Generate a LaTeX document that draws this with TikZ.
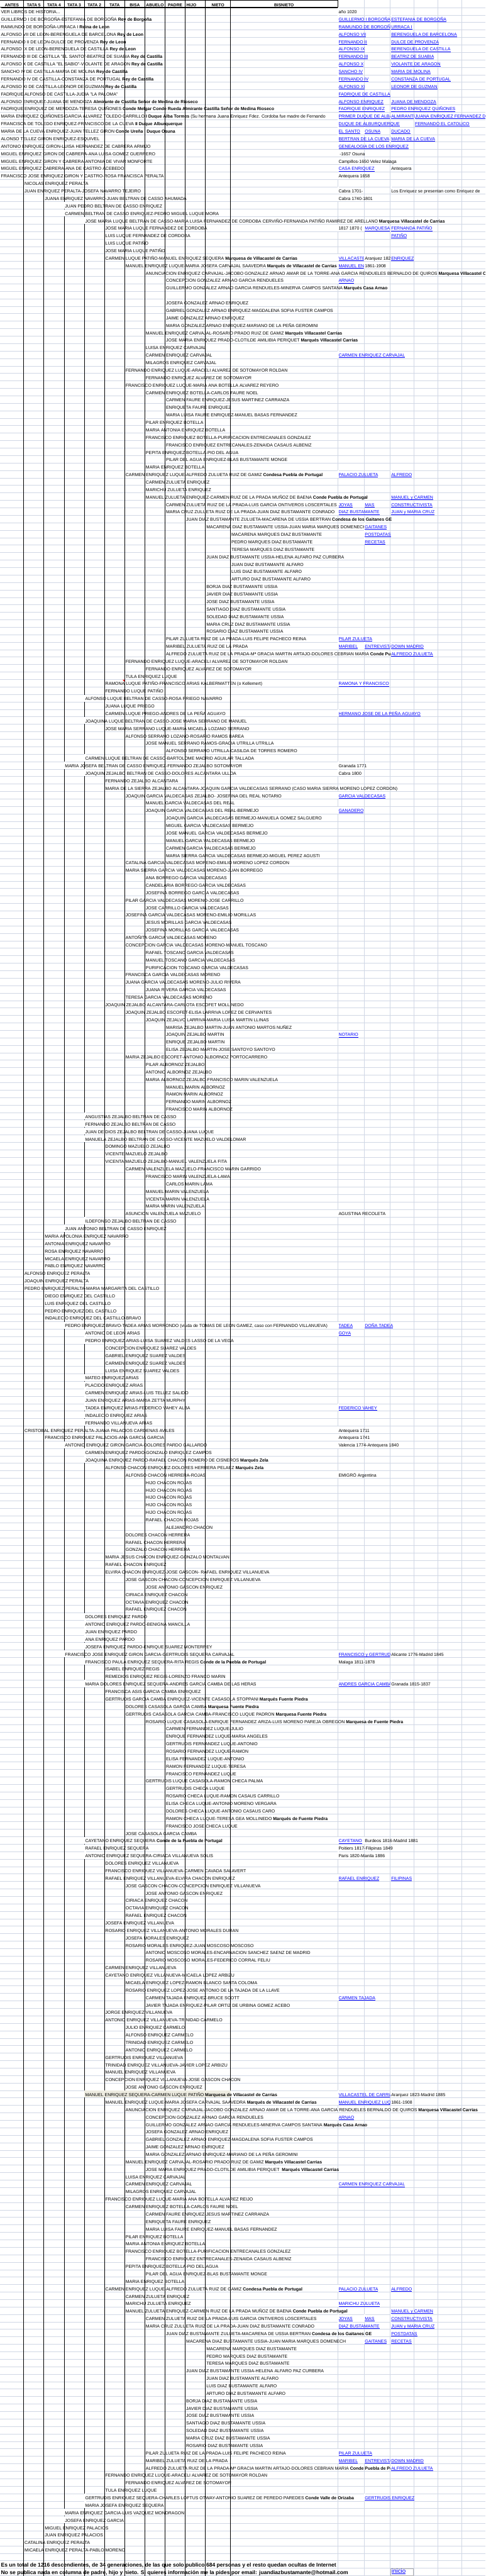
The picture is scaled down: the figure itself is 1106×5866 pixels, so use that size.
\documentclass[tikz,border=0pt]{standalone}
\usepackage{fontspec}
\setmainfont{Liberation Sans}
\definecolor{gridc}{RGB}{208,215,229}
\definecolor{lk}{RGB}{0,0,255}
\definecolor{tanc}{RGB}{238,236,225}
\newlength\tw
\newcommand\fs{\fontsize{10}{12}\selectfont}
\newcommand\hf{\fontsize{9.5}{11}\selectfont\bfseries}
\newcommand\ff{\fontsize{12.3}{14}\selectfont\bfseries}
\newcommand\myul[1]{\setbox0=\hbox{#1}\rlap{\copy0}\rule[-1.7pt]{\wd0}{0.8pt}}
\def\cA{0}\def\cB{54}\def\cC{100}\def\cD{146}\def\cE{192}\def\cF{238}\def\cG{284}
\def\cH{330}\def\cI{376}\def\cJ{422}\def\cK{468}\def\cL{525}\def\cM{769}\def\cN{829}
\def\cO{889}\def\cP{943}\def\cQ{997}\def\cR{1051}\def\cZ{1106}
\let\prefill\relax
% #1 x, #2 row, #3 clip x, #4 colour, #5 font, #6 content
\newcommand\cellx[6]{%
  \settowidth\tw{#5#6}%
  \pgfmathsetmacro\xa{#1+0.6}%
  \pgfmathsetmacro\xb{min(#1+2+\tw+1.5,#3-0.5)}%
  \pgfmathsetmacro\yt{17*#2+0.8}%
  \pgfmathsetmacro\yb{17*#2+16.8}%
  \fill[white] (\xa,\yt) rectangle (\xb,\yb);
  \prefill
  \begin{scope}
    \clip (#1,\yt-2) rectangle (#3-0.5,\yb+2);
    \node[anchor=base west,inner sep=0pt,text=#4,font=#5] at (#1+2,17*#2+14) {#6};
  \end{scope}}
\newcommand\ent[3]{\edef\myx{\csname c#2\endcsname}\cellx{\myx}{#1}{1106}{black}{\fs}{#3}}
\newcommand\entc[4]{\edef\myx{\csname c#2\endcsname}\edef\myz{\csname c#3\endcsname}\cellx{\myx}{#1}{\myz}{black}{\fs}{#4}}
\newcommand\lnk[3]{\edef\myx{\csname c#2\endcsname}\cellx{\myx}{#1}{1106}{lk}{\fs}{\myul{#3}}}
\newcommand\lnkc[4]{\edef\myx{\csname c#2\endcsname}\edef\myz{\csname c#3\endcsname}\cellx{\myx}{#1}{\myz}{lk}{\fs}{\myul{#4}}}
\begin{document}
\begin{tikzpicture}[x=1pt,y=-1pt]
\useasboundingbox (0,0) rectangle (1106,5866);
\fill[white] (0,0) rectangle (1106,5866);
% gridlines
\foreach \j in {0,...,344} \draw[gridc,line width=1pt] (0,17.3+17*\j) -- (1106,17.3+17*\j);
\foreach \x in {769,829,889,943,997,1051} \draw[gridc,line width=1pt] (\x,0) -- (\x,5866);
% black column borders
\foreach \x in {54,100,146,192,238,284,330,376,422,468,525} \draw[black,line width=1pt] (\x,0.5) -- (\x,5866);
% header
\draw[black,line width=1pt] (0,1) -- (769,1);
\draw[black,line width=1pt] (769,0.5) -- (769,17.3);
\draw[black,line width=2pt] (0,17.3) -- (769,17.3);
\node[font=\hf,anchor=base] (hA) at (27,15) {ANTES};
\node[font=\hf,anchor=base] (hB) at (77,15) {TATA 5};
\node[font=\hf,anchor=base] (hC) at (123,15) {TATA 4};
\node[font=\hf,anchor=base] (hD) at (169,15) {TATA 3};
\node[font=\hf,anchor=base] (hE) at (215,15) {TATA 2};
\node[font=\hf,anchor=base] (hF) at (261,15) {TATA};
\node[font=\hf,anchor=base] (hG) at (307,15) {BISA};
\node[font=\hf,anchor=base] (hH) at (353,15) {ABUELO};
\node[font=\hf,anchor=base] (hI) at (399,15) {PADRE};
\node[font=\hf,anchor=base] (hJ) at (436,15) {HIJO};
\node[font=\hf,anchor=base] (hK) at (496.5,15) {NIETO};
\node[font=\hf,anchor=base] (hL) at (647,15) {BISNIETO};
% rows
\ent{1}{A}{VER LIBROS DE HISTORIA...}\ent{1}{M}{año 1020}
\ent{2}{A}{GUILLERMO I DE BORGOÑA-ESTEFANIA DE BORGOÑA \textbf{Rey de Borgoña}}\lnkc{2}{M}{O}{GUILLERMO I BORGOÑA}\lnk{2}{O}{ESTEFANIA DE BORGOÑA}
\ent{3}{A}{RAIMUNDO DE BORGOÑA-URRACA I \textbf{Reina de Leon}}\lnkc{3}{M}{O}{RAIMUNDO DE BORGOÑA}\lnk{3}{O}{URRACA I}
\ent{4}{A}{ALFONSO VII DE LEON-BERENGUELA DE BARCELONA \textbf{Rey de Leon}}\lnk{4}{M}{ALFONSO VII}\lnk{4}{O}{BERENGUELA DE BARCELONA}
\ent{5}{A}{FERNANDO II DE LEON-DULCE DE PROVENZA \textbf{Rey de Leon}}\lnk{5}{M}{FERNANDO II}\lnk{5}{O}{DULCE DE PROVENZA}
\ent{6}{A}{ALFONSO IX DE LEON-BERENGUELA DE CASTILLA \textbf{Rey de Leon}}\lnk{6}{M}{ALFONSO IX}\lnk{6}{O}{BERENGUELA DE CASTILLA}
\ent{7}{A}{FERNANDO III DE CASTILLA "EL SANTO"-BEATRIZ DE SUABIA \textbf{Rey de Castilla}}\lnk{7}{M}{FERNANDO III}\lnk{7}{O}{BEATRIZ DE SUABIA}
\ent{8}{A}{ALFONSO X DE CASTILLA "EL SABIO"-VIOLANTE DE ARAGON \textbf{Rey de Castilla}}\lnk{8}{M}{ALFONSO X}\lnk{8}{O}{VIOLANTE DE ARAGON}
\ent{9}{A}{SANCHO IV DE CASTILLA-MARIA DE MOLINA \textbf{Rey de Castilla}}\lnk{9}{M}{SANCHO IV}\lnk{9}{O}{MARIA DE MOLINA}
\ent{10}{A}{FERNANDO IV DE CASTILLA-CONSTANZA DE PORTUGAL \textbf{Rey de Castilla}}\lnk{10}{M}{FERNANDO IV}\lnk{10}{O}{CONSTANZA DE PORTUGAL}
\ent{11}{A}{ALFONSO XI DE CASTILLA-LEONOR DE GUZMAN \textbf{Rey de Castilla}}\lnk{11}{M}{ALFONSO XI}\lnk{11}{O}{LEONOR DE GUZMAN}
\ent{12}{A}{FADRIQUE ALFONSO DE CASTILLA-JUDIA "LA PALOMA"}\lnk{12}{M}{FADRIQUE DE CASTILLA}
\ent{13}{A}{ALFONSO ENRIQUEZ-JUANA DE MENDOZA \textbf{Almirante de Castilla Señor de Medina de Rioseco}}\lnk{13}{M}{ALFONSO ENRIQUEZ}\lnk{13}{O}{JUANA DE MENDOZA}
\ent{14}{A}{FADRIQUE ENRIQUEZ DE MENDOZA-TERESA QUIÑONES \textbf{Conde Melgar Conde Rueda Almirante Castilla Señor de Medina Rioseco}}\lnk{14}{M}{FADRIQUE ENRIQUEZ}\lnk{14}{O}{PEDRO ENRIQUEZ QUIÑONES}
\entc{15}{A}{M}{MARIA ENRIQUEZ QUIÑONES-GARCIA ALVAREZ TOLEDO CARRILLO \textbf{I Duque Alba Tormes} (Su hermana Juana Enriquez Fdez. Cordoba fue madre de Fernando}\lnkc{15}{M}{O}{PRIMER DUQUE DE ALBA}\lnkc{15}{O}{P}{ALMIRANTE}\lnk{15}{P}{JUANA ENRIQUEZ FERNANDEZ DE CORDOBA}
\ent{16}{A}{FRANCISCA DE TOLEDO ENRIQUEZ-FRANCISCO DE LA CUEVA \textbf{II Duque Alburquerque}}\lnk{16}{M}{DUQUE DE ALBURQUERQUE}\lnk{16}{P}{FERNANDO EL CATOLICO}
\ent{17}{A}{MARIA DE LA CUEVA ENRIQUEZ-JUAN TELLEZ GIRON \textbf{Conde Ureña I Duque Osuna}}\lnk{17}{M}{EL SANTO}\lnk{17}{N}{OSUNA}\lnk{17}{O}{DUCADO}
\ent{18}{A}{ALONSO TELLEZ GIRON ENRIQUEZ-ESQUIVEL}\lnkc{18}{M}{O}{BERTRAN DE LA CUEVA}\lnk{18}{O}{MARIA DE LA CUEVA}
\ent{19}{A}{ANTONIO ENRIQUEZ GIRON-LUISA HERNANDEZ DE CABRERA ARMIJO}\lnk{19}{M}{GENEALOGIA DE LOS ENRIQUEZ}
\ent{20}{A}{MIGUEL ENRIQUEZ GIRON DE CABRERA-ANA LUISA GOMEZ GUERRERO}\ent{20}{M}{\hspace{2.5pt}-1657 Osuna}
\ent{21}{A}{MIGUEL ENRIQUEZ GIRON Y CABRERA-ANTONIA DE VIVAR MONFORTE}\ent{21}{M}{Campillos-1650 Velez Malaga}
\ent{22}{A}{MIGUEL ENRIQUEZ CABRERA-ANA DE CASTRO ACEBEDO}\lnk{22}{M}{CASA ENRIQUEZ}\ent{22}{O}{Antequera}
\ent{23}{A}{FRANCISCO JOSE ENRIQUEZ GIRON Y CASTRO-ROSA FRANCISCA PERALTA}\ent{23}{M}{Antequera 1658}
\ent{24}{B}{NICOLAS ENRIQUEZ PERALTA}
\ent{25}{B}{JUAN ENRIQUEZ PERALTA-JOSEFA NAVARRO TEJEIRO}\ent{25}{M}{Cabra 1701-}\ent{25}{O}{Los Enriquez se presentan como Enriquez de}
\ent{26}{C}{JUANA ENRIQUEZ NAVARRO-JUAN BELTRAN DE CASSO AHUMADA}\ent{26}{M}{Cabra 1740-1801}
\ent{27}{D}{JUAN PEDRO BELTRAN DE CASSO ENRIQUEZ}
\ent{28}{D}{CARMEN BELTRAN DE CASSO ENRIQUEZ-PEDRO MIGUEL LUQUE MORA}
\ent{29}{E}{JOSE MARIA LUQUE BELTRAN DE CASSO-MARIA LUISA FERNANDEZ DE CORDOBA CERVIÑO-FERNANDA PATIÑO RAMIREZ DE ARELLANO \textbf{Marquesa Villacastel de Carrias}}
\ent{30}{F}{JOSE MARIA LUQUE FERNANDEZ DE CORDOBA}\entc{30}{M}{N}{1817 1870 (}\lnkc{30}{N}{O}{MARQUESA}\lnk{30}{O}{FERNANDA PATIÑO}
\ent{31}{F}{LUIS LUQUE FERNANDEZ DE CORDOBA}\lnk{31}{O}{PATIÑO}
\ent{32}{F}{LUIS LUQUE PATIÑO}
\ent{33}{F}{JOSE MARIA LUQUE PATIÑO}
\ent{34}{F}{CARMEN LUQUE PATIÑO-MANUEL ENRIQUEZ SEQUERA \textbf{Marquesa de Villacastel de Carrias}}\lnkc{34}{M}{N}{VILLACASTEL}\entc{34}{N}{O}{Aranjuez 1823}\lnk{34}{O}{ENRIQUEZ}
\entc{35}{G}{M}{MANUEL ENRIQUEZ LUQUE-MARIA JOSEFA CARVAJAL SAAVEDRA \textbf{Marqués de Villacastel de Carrias}}\lnkc{35}{M}{N}{MANUEL ENRIQUEZ}\ent{35}{N}{1861-1908}
\ent{36}{H}{ANUNCIACION ENRIQUEZ CARVAJAL-JACOBO GONZALEZ ARNAO AMAR DE LA TORRE-ANA GARCIA RENDUELES BERNALDO DE QUIROS \textbf{Marquesa Villacastel Carrias}}
\ent{37}{I}{CONCEPCION GONZALEZ ARNAO GARCIA RENDUELES}\lnk{37}{M}{ARNAO}
\ent{38}{I}{GUILLERMO GONZALEZ ARNAO GARCIA RENDUELES-MINERVA CAMPOS SANTANA \textbf{Marqués Casa Arnao}}
\ent{40}{I}{JOSEFA GONZALEZ ARNAO ENRIQUEZ}
\ent{41}{I}{GABRIEL GONZALEZ ARNAO ENRIQUEZ-MAGDALENA SOFIA FUSTER CAMPOS}
\ent{42}{I}{JAIME GONZALEZ ARNAO ENRIQUEZ}
\ent{43}{I}{MARIA GONZALEZ ARNAO ENRIQUEZ-MARIANO DE LA PEÑA GEROMINI}
\ent{44}{H}{MANUEL ENRIQUEZ CARVAJAL-ROSARIO PRADO RUIZ DE GAMIZ \textbf{Marqués Villacastel Carrias}}
\ent{45}{I}{JOSE MARIA ENRIQUEZ PRADO-CLOTILDE AMILIBIA PERIQUET \textbf{Marqués Villacastel Carrias}}
\ent{46}{H}{LUISA ENRIQUEZ CARVAJAL}
\ent{47}{H}{CARMEN ENRIQUEZ CARVAJAL}\lnk{47}{M}{CARMEN ENRIQUEZ CARVAJAL}
\ent{48}{H}{MILAGROS ENRIQUEZ CARVAJAL}
\ent{49}{G}{FERNANDO ENRIQUEZ LUQUE-ARACELI ALVAREZ DE SOTOMAYOR ROLDAN}
\ent{50}{H}{FERNANDO ENRIQUEZ ALVAREZ DE SOTOMAYOR}
\ent{51}{G}{FRANCISCO ENRIQUEZ LUQUE-MARIA ANA BOTELLA ALVAREZ REYERO}
\ent{52}{H}{CARMEN ENRIQUEZ BOTELLA-CARLOS FAURE NOEL}
\ent{53}{I}{CARMEN FAURE ENRIQUEZ-JESUS MARTINEZ CARRANZA}
\ent{54}{I}{ENRIQUETA FAURE ENRIQUEZ}
\ent{55}{I}{MARIA LUISA FAURE ENRIQUEZ-MANUEL BASAS FERNANDEZ}
\ent{56}{H}{PILAR ENRIQUEZ BOTELLA}
\ent{57}{H}{MARIA ANTONIA ENRIQUEZ BOTELLA}
\ent{58}{H}{FRANCISCO ENRIQUEZ BOTELLA-PURIFICACION ENTRECANALES GONZALEZ}
\ent{59}{I}{FRANCISCO ENRIQUEZ ENTRECANALES-ZENAIDA CASAUS ALBENIZ}
\ent{60}{H}{PEPITA ENRIQUEZ BOTELLA-PIO DEL AGUA}
\ent{61}{I}{PILAR DEL AGUA ENRIQUEZ-BLAS BUSTAMANTE MONGE}
\ent{62}{H}{MARIA ENRIQUEZ BOTELLA}
\ent{63}{G}{CARMEN ENRIQUEZ LUQUE-ALFREDO ZULUETA RUIZ DE GAMIZ \textbf{Condesa Puebla de Portugal}}\lnk{63}{M}{PALACIO ZULUETA}\lnk{63}{O}{ALFREDO}
\ent{64}{H}{CARMEN ZULUETA ENRIQUEZ}
\ent{65}{H}{MARICHU ZULUETA ENRIQUEZ}
\ent{66}{H}{MANUEL ZULUETA ENRIQUEZ-CARMEN RUIZ DE LA PRADA MUÑOZ DE BAENA \textbf{Conde Puebla de Portugal}}\lnk{66}{O}{MANUEL y CARMEN}
\entc{67}{I}{M}{CARMEN ZULUETA RUIZ DE LA PRADA-LUIS GARCIA ONTIVEROS LOSCERTALES}\lnk{67}{M}{JOYAS}\lnk{67}{N}{MAS}\lnk{67}{O}{CONSTRUCTIVISTA}
\entc{68}{I}{M}{MARIA CRUZ ZULUETA RUIZ DE LA PRADA-JUAN DIAZ BUSTAMANTE CONRADO}\lnk{68}{M}{DIAZ BUSTAMANTE}\lnk{68}{O}{JUAN y MARIA CRUZ}
\ent{69}{J}{JUAN DIAZ BUSTAMANTE ZULUETA-MACARENA DE USSIA BERTRAN \textbf{Condesa de los Gaitanes GE}}
\entc{70}{K}{N}{MACARENA DIAZ BUSTAMANTE USSIA-JUAN MARIA MARQUES DOMENECH}\lnk{70}{N}{GAITANES}
\ent{71}{L}{MACARENA MARQUES DIAZ BUSTAMANTE}\lnk{71}{N}{POSTDATAS}
\ent{72}{L}{PEDRO MARQUES DIAZ BUSTAMANTE}\lnk{72}{N}{RECETAS}
\ent{73}{L}{TERESA MARQUES DIAZ BUSTAMANTE}
\ent{74}{K}{JUAN DIAZ BUSTAMANTE USSIA-HELENA ALFARO PAZ CURBERA}
\ent{75}{L}{JUAN DIAZ BUSTAMANTE ALFARO}
\ent{76}{L}{LUIS DIAZ BUSTAMANTE ALFARO}
\ent{77}{L}{ARTURO DIAZ BUSTAMANTE ALFARO}
\ent{78}{K}{BORJA DIAZ BUSTAMANTE USSIA}
\ent{79}{K}{JAVIER DIAZ BUSTAMANTE USSIA}
\ent{80}{K}{JOSE DIAZ BUSTAMANTE USSIA}
\ent{81}{K}{SANTIAGO DIAZ BUSTAMANTE USSIA}
\ent{82}{K}{SOLEDAD DIAZ BUSTAMANTE USSIA}
\ent{83}{K}{MARIA CRUZ DIAZ BUSTAMANTE USSIA}
\ent{84}{K}{ROSARIO DIAZ BUSTAMANTE USSIA}
\ent{85}{I}{PILAR ZULUETA RUIZ DE LA PRADA-LUIS FELIPE PACHECO REINA}\lnk{85}{M}{PILAR ZULUETA}
\ent{86}{I}{MARIBEL ZULUETA RUIZ DE LA PRADA}\lnk{86}{M}{MARIBEL}\lnkc{86}{N}{O}{ENTREVISTA}\lnk{86}{O}{DOWN MADRID}
\entc{87}{I}{O}{ALFREDO ZULUETA RUIZ DE LA PRADA-Mª GRACIA MARTIN ARTAJO-DOLORES CEBRIAN MARIA \textbf{Conde Puebla de Portugal}}\lnk{87}{O}{ALFREDO ZULUETA}
\ent{88}{G}{FERNANDO ENRIQUEZ LUQUE-ARACELI ALVAREZ DE SOTOMAYOR ROLDAN}
\ent{89}{H}{FERNANDO ENRIQUEZ ALVAREZ DE SOTOMAYOR}
\ent{90}{G}{TULA ENRIQUEZ LUQUE}
\ent{91}{F}{RAMONA LUQUE PATIÑO-FRANCISCO ARIAS KALBERMATTEN (o Kellemert)}\lnk{91}{M}{RAMONA Y FRANCISCO}
\ent{92}{F}{FERNANDO LUQUE PATIÑO}
\ent{93}{E}{ALFONSO LUQUE BELTRAN DE CASSO-ROSA PRIEGO NAVARRO}
\ent{94}{F}{JUANA LUQUE PRIEGO}
\ent{95}{F}{CARMEN LUQUE PRIEGO-ANDRES DE LA PEÑA AGUAYO}\lnk{95}{M}{HERMANO JOSE DE LA PEÑA AGUAYO}
\ent{96}{E}{JOAQUINA LUQUE BELTRAN DE CASSO-JOSE MARIA SERRANO DE MANUEL}
\ent{97}{F}{JOSE MARIA SERRANO LUQUE-MARIA MICAELA LOZANO SERRANO}
\ent{98}{G}{ALFONSO SERRANO LOZANO-ROSARIO RAMOS BAREA}
\ent{99}{H}{JOSE MANUEL SERRANO RAMOS-GRACIA UTRILLA UTRILLA}
\ent{100}{I}{ALFONSO SERRANO UTRILLA-CASILDA DE TORRES ROMERO}
\ent{101}{E}{CARMEN LUQUE BELTRAN DE CASSO-BARTOLOME MADRID AGUILAR TALLADA}
\ent{102}{D}{MARIA JOSEFA BELTRAN DE CASSO ENRIQUEZ-FERNANDO ZEJALBO SOTOMAYOR}\ent{102}{M}{Granada 1771}
\ent{103}{E}{JOAQUIN ZEJALBO BELTRAN DE CASSO-DOLORES ALCANTARA ULLOA}\ent{103}{M}{Cabra 1800}
\ent{104}{F}{FERNANDO ZEJALBO ALCANTARA}
\ent{105}{F}{MARIA DE LA SIERRA ZEJALBO ALCANTARA-JOAQUIN GARCIA VALDECASAS SERRANO (CASO MARIA SIERRA MORENO LOPEZ CORDON)}
\ent{106}{G}{JOAQUIN GARCIA VALDECASAS ZEJALBO- JOSEFINA DEL REAL NOTARIO}\lnk{106}{M}{GARCIA VALDECASAS}
\ent{107}{H}{MANUEL GARCIA VALDECASAS DEL REAL}
\ent{108}{H}{JOAQUIN GARCIA VALDECASAS DEL REAL-BERMEJO}\lnk{108}{M}{GANADERO}
\ent{109}{I}{JOAQUIN GARCIA VALDECASAS BERMEJO-MANUELA GOMEZ SALGUERO}
\ent{110}{I}{MIGUEL GARCIA VALDECASAS BERMEJO}
\ent{111}{I}{JOSE MANUEL GARCIA VALDECASAS BERMEJO}
\ent{112}{I}{MANUEL GARCIA VALDECASAS BERMEJO}
\ent{113}{I}{CARMEN GARCIA VALDECASAS BERMEJO}
\ent{114}{I}{MARIA SIERRA GARCIA VALDECASAS BERMEJO-MIGUEL PEREZ AGUSTI}
\ent{115}{G}{CATALINA GARCIA VALDECASAS MORENO-EMILIO MORENO LOPEZ CORDON}
\ent{116}{G}{MARIA SIERRA GARCIA VALDECASAS MORENO-JUAN BORREGO}
\ent{117}{H}{ANA BORREGO GARCIA VALDECASAS}
\ent{118}{H}{CANDELARIA BORREGO GARCIA VALDECASAS}
\ent{119}{H}{JOSEFINA BORREGO GARCIA VALDECASAS}
\ent{120}{G}{PILAR GARCIA VALDECASAS MORENO-JOSE CARRILLO}
\ent{121}{H}{JOSE CARRILLO GARCIA VALDECASAS}
\ent{122}{G}{JOSEFINA GARCIA VALDECASAS MORENO-EMILIO MORILLAS}
\ent{123}{H}{JESUS MORILLAS GARCIA VALDECASAS}
\ent{124}{H}{JOSEFINA MORILLAS GARCIA VALDECASAS}
\ent{125}{G}{ANTOÑITA GARCIA VALDECASAS MORENO}
\ent{126}{G}{CONCEPCION GARCIA VALDECASAS MORENO-MANUEL TOSCANO}
\ent{127}{H}{RAFAEL TOSCANO GARCIA VALDECASAS}
\ent{128}{H}{MANUEL TOSCANO GARCIA VALDECASAS}
\ent{129}{H}{PURIFICACION TOSCANO GARCIA VALDECASAS}
\ent{130}{G}{FRANCISCA GARCIA VALDECASAS MORENO}
\ent{131}{G}{JUANA GARCIA VALDECASAS MORENO-JULIO RIVERA}
\ent{132}{H}{JUANA RIVERA GARCIA VALDECASAS}
\ent{133}{G}{TERESA GARCIA VALDECASAS MORENO}
\ent{134}{F}{JOAQUIN ZEJALBO ALCANTARA-CARLOTA ESCOFET MOLLINEDO}
\ent{135}{G}{JOAQUIN ZEJALBO ESCOFET-ELISA LARRIVA LOPEZ DE CERVANTES}
\ent{136}{H}{JOAQUIN ZEJALVO LARRIVA-MARIA LUISA MARTIN LLINAS}
\ent{137}{I}{MARISA ZEJALBO MARTIN-JUAN ANTONIO MARTOS NUÑEZ}
\ent{138}{I}{JOAQUIN ZEJALBO MARTIN}\lnk{138}{M}{NOTARIO}
\ent{139}{I}{ENRIQUE ZEJALBO MARTIN}
\ent{140}{I}{ELISA ZEJALBO MARTIN-JOSE SANTOYO SANTOYO}
\ent{141}{G}{MARIA ZEJALBO ESCOFET-ANTONIO ALBORNOZ PORTOCARRERO}
\ent{142}{H}{PILAR ALBORNOZ ZEJALBO}
\ent{143}{H}{ANTONIO ALBORNOZ ZEJALBO}
\ent{144}{H}{MARIA ALBORNOZ ZEJALBO-FRANCISCO MARIN VALENZUELA}
\ent{145}{I}{MANUEL MARIN ALBORNOZ}
\ent{146}{I}{RAMON MARIN ALBORNOZ}
\ent{147}{I}{FERNANDO MARIN ALBORNOZ}
\ent{148}{I}{FRANCISCO MARIN ALBORNOZ}
\ent{149}{E}{ANGUSTIAS ZEJALBO BELTRAN DE CASSO}
\ent{150}{E}{FERNANDO ZEJALBO BELTRAN DE CASSO}
\ent{151}{E}{JUAN DE DIOS ZEJALBO BELTRAN DE CASSO-JUANA LUQUE}
\ent{152}{E}{MANUELA ZEJALBO BELTRAN DE CASSO-VICENTE MAZUELO VALDELOMAR}
\ent{153}{F}{DOMINGO MAZUELO ZEJALBO}
\ent{154}{F}{VICENTE MAZUELO ZEJALBO}
\ent{155}{F}{VICENTA MAZUELO ZEJALBO-MANUEL VALENZUELA FITA}
\ent{156}{G}{CARMEN VALENZUELA MAZUELO-FRANCISCO MARIN GARRIDO}
\ent{157}{H}{FRANCISCO MARIN VALENZUELA-LAMA}
\ent{158}{I}{CARLOS MARIN LAMA}
\ent{159}{H}{MANUEL MARIN VALENZUELA}
\ent{160}{H}{VICENTA MARIN VALENZUELA}
\ent{161}{H}{MARIA MARIN VALENZUELA}
\ent{162}{G}{ASUNCION VALENZUELA MAZUELO}\ent{162}{M}{AGUSTINA RECOLETA}
\ent{163}{E}{ILDEFONSO ZEJALBO BELTRAN DE CASSO}
\ent{164}{D}{JUAN ANTONIO BELTRAN DE CASSO ENRIQUEZ}
\ent{165}{C}{MARIA APOLONIA ENRIQUEZ NAVARRO}
\ent{166}{C}{ANTONIA ENRIQUEZ NAVARRO}
\ent{167}{C}{ROSA ENRIQUEZ NAVARRO}
\ent{168}{C}{MICAELA ENRIQUEZ NAVARRO}
\ent{169}{C}{PABLO ENRIQUEZ NAVARRO}
\ent{170}{B}{ALFONSO ENRIQUEZ PERALTA}
\ent{171}{B}{JOAQUIN ENRIQUEZ PERALTA}
\ent{172}{B}{PEDRO ENRIQUEZ PERALTA-MARIA MARGARITA DEL CASTILLO}
\ent{173}{C}{DIEGO ENRIQUEZ DEL CASTILLO}
\ent{174}{C}{LUIS ENRIQUEZ DEL CASTILLO}
\ent{175}{C}{PEDRO ENRIQUEZ DEL CASTILLO}
\ent{176}{C}{INDALECIO ENRIQUEZ DEL CASTILLO-BRAVO}
\entc{177}{D}{M}{PEDRO ENRIQUEZ BRAVO-TADEA ARIAS MORRONDO (viuda de TOMAS DE LEON GAMEZ, caso con FERNANDO VILLANUEVA)}\lnk{177}{M}{TADEA}\lnk{177}{N}{DOÑA TADEA}
\ent{178}{E}{ANTONIO DE LEON ARIAS}\lnk{178}{M}{GOYA}
\ent{179}{E}{PEDRO ENRIQUEZ ARIAS-LUISA SUAREZ VALDES LASSO DE LA VEGA}
\ent{180}{F}{CONCEPCION ENRIQUEZ SUAREZ VALDES}
\ent{181}{F}{GABRIEL ENRIQUEZ SUAREZ VALDES}
\ent{182}{F}{CARMEN ENRIQUEZ SUAREZ VALDES}
\ent{183}{F}{LUISA ENRIQUEZ SUAREZ VALDES}
\ent{184}{E}{MATEO ENRIQUEZ ARIAS}
\ent{185}{E}{PLACIDO ENRIQUEZ ARIAS}
\ent{186}{E}{CARMEN ENRIQUEZ ARIAS-LUIS TELLEZ SALIDO}
\ent{187}{E}{JUAN ENRIQUEZ ARIAS-MARIA ZETTA MURPHY}
\ent{188}{E}{TADEA ENRIQUEZ ARIAS-FEDERICO VAHEY ALBA}\lnk{188}{M}{FEDERICO VAHEY}
\ent{189}{E}{INDALECIO ENRIQUEZ ARIAS}
\ent{190}{E}{FERNANDO VILLANUEVA ARIAS}
\ent{191}{B}{CRISTOBAL ENRIQUEZ PERALTA-JUANA PALACIOS CARDENAS AVILES}\ent{191}{M}{Antequera 1711}
\ent{192}{C}{FRANCISCO ENRIQUEZ PALACIOS-ANA GARCIA GARCIA}\ent{192}{M}{Antequera 1741}
\ent{193}{D}{ANTONIO ENRIQUEZ GIRON GARCIA-DOLORES PARDO GALLARDO}\ent{193}{M}{Valencia 1774-Antequera 1840}
\ent{194}{E}{CARMEN ENRIQUEZ PARDO-GONZALO ENRIQUEZ CAMPOS}
\ent{195}{E}{JOAQUINA ENRIQUEZ PARDO-RAFAEL CHACON ROMERO DE CISNEROS \textbf{Marqués Zela}}
\ent{196}{F}{ALFONSO CHACON ENRIQUEZ-DOLORES HERRERA PELAEZ \textbf{Marqués Zela}}
\ent{197}{G}{ALFONSO CHACON HERRERA-ROJAS}\ent{197}{M}{EMIGRÓ Argentina}
\ent{198}{H}{HIJO CHACON ROJAS}
\ent{199}{H}{HIJO CHACON ROJAS}
\ent{200}{H}{HIJO CHACON ROJAS}
\ent{201}{H}{HIJO CHACON ROJAS}
\ent{202}{H}{HIJO CHACON ROJAS}
\ent{203}{H}{RAFAEL CHACON ROJAS}
\ent{204}{I}{ALEJANDRO CHACON}
\ent{205}{G}{DOLORES CHACON HERRERA}
\ent{206}{G}{RAFAEL CHACON HERRERA}
\ent{207}{G}{GONZALO CHACON HERRERA}
\ent{208}{F}{MARIA JESUS CHACON ENRIQUEZ-GONZALO MONTALVAN}
\ent{209}{F}{RAFAEL CHACON ENRIQUEZ}
\ent{210}{F}{ELVIRA CHACON ENRIQUEZ-JOSE GASCON- RAFAEL ENRIQUEZ VILLANUEVA}
\ent{211}{G}{JOSE GASCON CHACON-CONCEPCION ENRIQUEZ VILLANUEVA}
\ent{212}{H}{JOSE ANTONIO GASCON ENRIQUEZ}
\ent{213}{G}{CIRIACA ENRIQUEZ CHACON}
\ent{214}{G}{OCTAVIA ENRIQUEZ CHACON}
\ent{215}{G}{RAFAEL ENRIQUEZ CHACON}
\ent{216}{E}{DOLORES ENRIQUEZ PARDO}
\ent{217}{E}{ANTONIO ENRIQUEZ PARDO-BENIGNA MANCILLA}
\ent{218}{E}{JUAN ENRIQUEZ PARDO}
\ent{219}{E}{ANA ENRIQUEZ PARDO}
\ent{220}{E}{JOSEFA ENRIQUEZ PARDO-ENRIQUE SUAREZ MONTERREY}
\ent{221}{D}{FRANCISCO JOSE ENRIQUEZ GIRON GARCIA-GERTRUDIS SEQUERA CARVAJAL}\lnkc{221}{M}{O}{FRANCISCO y GERTRUDIS}\ent{221}{O}{Alicante 1776-Madrid 1845}
\ent{222}{E}{FRANCISCO PAULA ENRIQUEZ SEQUERA-RITA REGIS \textbf{Conde de la Puebla de Portugal}}\ent{222}{M}{Malaga 1811-1878}
\ent{223}{F}{ISABEL ENRIQUEZ REGIS}
\ent{224}{F}{REMEDIOS ENRIQUEZ REGIS-LORENZO FRANCO MARIN}
\ent{225}{E}{MARIA DOLORES ENRIQUEZ SEQUERA-ANDRES GARCIA CAMBA DE LAS HERAS}\lnkc{225}{M}{O}{ANDRES GARCIA CAMBA}\ent{225}{O}{Granada 1815-1837}
\ent{226}{F}{FRANCISCA ASIS GARCIA CAMBA ENRIQUEZ}
\ent{227}{F}{GERTRUDIS GARCIA CAMBA ENRIQUEZ-VICENTE CASASOLA STOPPANI \textbf{Marqués Fuente Piedra}}
\ent{228}{G}{DOLORES CASASOLA GARCIA CAMBA \textbf{Marquesa Fuente Piedra}}
\ent{229}{G}{GERTRUDIS CASASOLA GARCIA CAMBA-FRANCISCO LUQUE PADRON \textbf{Marquesa Fuente Piedra}}
\ent{230}{H}{ROSARIO LUQUE CASASOLA-ENRIQUE FERNANDEZ ARIZA-LUIS MORENO PAREJA OBREGON \textbf{Marquesa de Fuente Piedra}}
\ent{231}{I}{CARMEN FERNANDEZ LUQUE-JULIO}
\ent{232}{I}{ENRIQUE FERNANDEZ LUQUE-MARIA ANGELES}
\ent{233}{I}{GERTRUDIS FERNANDEZ LUQUE-ANTONIO}
\ent{234}{I}{ROSARIO FERNANDEZ LUQUE-RAMON}
\ent{235}{I}{ELISA FERNANDEZ LUQUE-ANTONIO}
\ent{236}{I}{RAMON FERNANDEZ LUQUE-TERESA}
\ent{237}{I}{FRANCISCO FERNANDEZ LUQUE}
\ent{238}{H}{GERTRUDIS LUQUE CASASOLA-RAMON CHECA PALMA}
\ent{239}{I}{GERTRUDIS CHECA LUQUE}
\ent{240}{I}{ROSARIO CHECA LUQUE-RAMON CASAUS CARRILLO}
\ent{241}{I}{ELISA CHECA LUQUE-ANTONIO MORENO VERGARA}
\ent{242}{I}{DOLORES CHECA LUQUE-ANTONIO CASAUS CARO}
\ent{243}{I}{RAMON CHECA LUQUE-TERESA GEA MOLLINEDO \textbf{Marqués de Fuente Piedra}}
\ent{244}{I}{FRANCISCO JOSE CHECA LUQUE}
\ent{245}{G}{JOSE CASASOLA GARCIA CAMBA}
\ent{246}{E}{CAYETANO ENRIQUEZ SEQUERA \textbf{Conde de la Puebla de Portugal}}\lnk{246}{M}{CAYETANO}\ent{246}{N}{Burdeos 1816-Madrid 1881}
\ent{247}{E}{RAFAEL ENRIQUEZ SEQUERA}\ent{247}{M}{Poitiers 1817-Filipinas 1849}
\ent{248}{E}{ANTONIO ENRIQUEZ SEQUERA-CIRIACA VILLANUEVA SOLIS}\ent{248}{M}{Paris 1820-Manila 1886}
\ent{249}{F}{DOLORES ENRIQUEZ VILLANUEVA}
\ent{250}{F}{FRANCISCO ENRIQUEZ VILLANUEVA-CARMEN CAVADA SALAVERT}
\ent{251}{F}{RAFAEL ENRIQUEZ VILLANUEVA-ELVIRA CHACON ENRIQUEZ}\lnk{251}{M}{RAFAEL ENRIQUEZ}\lnk{251}{O}{FILIPINAS}
\ent{252}{G}{JOSE GASCON CHACON-CONCEPCION ENRIQUEZ VILLANUEVA}
\ent{253}{H}{JOSE ANTONIO GASCON ENRIQUEZ}
\ent{254}{G}{CIRIACA ENRIQUEZ CHACON}
\ent{255}{G}{OCTAVIA ENRIQUEZ CHACON}
\ent{256}{G}{RAFAEL ENRIQUEZ CHACON}
\ent{257}{F}{JOSEFA ENRIQUEZ VILLANUEVA}
\ent{258}{F}{ROSARIO ENRIQUEZ VILLANUEVA-ANTONIO MORALES DURAN}
\ent{259}{G}{JOSEFA MORALES ENRIQUEZ}
\ent{260}{G}{ROSARIO MORALES ENRIQUEZ-JUAN MOSCOSO MOSCOSO}
\ent{261}{H}{ANTONIO MOSCOSO MORALES-ENCARNACION SANCHEZ SAENZ DE MADRID}
\ent{262}{H}{ROSARIO MOSCOSO MORALES-FEDERICO CORRAL FELIU}
\ent{263}{F}{CARMEN ENRIQUEZ VILLANUEVA}
\ent{264}{F}{CAYETANO ENRIQUEZ VILLANUEVA-MICAELA LOPEZ ARBIZU}
\ent{265}{G}{MICAELA ENRIQUEZ LOPEZ-RAMON BLANCO SANTA COLOMA}
\ent{266}{G}{ROSARIO ENRIQUEZ LOPEZ-JOSE ANTONIO DE LA TAJADA DE LA LLAVE}
\ent{267}{H}{CARMEN TAJADA ENRIQUEZ-BRUCE SCOTT}\lnk{267}{M}{CARMEN TAJADA}
\ent{268}{H}{JAVIER TAJADA ENRIQUEZ-PILAR ORTIZ DE URBINA GOMEZ ACEBO}
\ent{269}{F}{JORGE ENRIQUEZ VILLANUEVA}
\ent{270}{F}{ANTONIO ENRIQUEZ VILLANUEVA-TRINIDAD CARMELO}
\ent{271}{G}{JULIO ENRIQUEZ CARMELO}
\ent{272}{G}{ALFONSO ENRIQUEZ CARMELO}
\ent{273}{G}{TRINIDAD ENRIQUEZ CARMELO}
\ent{274}{G}{ANTONIO ENRIQUEZ CARMELO}
\ent{275}{F}{GERTRUDIS ENRIQUEZ VILLANUEVA}
\ent{276}{F}{TRINIDAD ENRIQUEZ VILLANUEVA-JAVIER LOPEZ ARBIZU}
\ent{277}{F}{MANUEL ENRIQUEZ VILLANUEVA}
\ent{278}{F}{CONCEPCION ENRIQUEZ VILLANUEVA-JOSE GASCON CHACON}
\ent{279}{G}{JOSE ANTONIO GASCON ENRIQUEZ}
\def\prefill{\fill[tanc] (192.6,4760.8) rectangle (525,4776.8);}
\ent{280}{E}{MANUEL ENRIQUEZ SEQUERA-CARMEN LUQUE PATIÑO \textbf{Marquesa de Villacastel de Carrias}}
\let\prefill\relax
\lnkc{280}{M}{O}{VILLACASTEL DE CARRIAS}\ent{280}{O}{Aranjuez 1823-Madrid 1885}
\entc{281}{F}{M}{MANUEL ENRIQUEZ LUQUE-MARIA JOSEFA CARVAJAL SAAVEDRA \textbf{Marqués de Villacastel de Carrias}}\lnkc{281}{M}{O}{MANUEL ENRIQUEZ LUQUE}\ent{281}{O}{1861-1908}
\ent{282}{G}{ANUNCIACION ENRIQUEZ CARVAJAL-JACOBO GONZALEZ ARNAO AMAR DE LA TORRE-ANA GARCIA RENDUELES BERNALDO DE QUIROS \textbf{Marquesa Villacastel Carrias}}
\ent{283}{H}{CONCEPCION GONZALEZ ARNAO GARCIA RENDUELES}\lnk{283}{M}{ARNAO}
\ent{284}{H}{GUILLERMO GONZALEZ ARNAO GARCIA RENDUELES-MINERVA CAMPOS SANTANA \textbf{Marqués Casa Arnao}}
\ent{285}{H}{JOSEFA GONZALEZ ARNAO ENRIQUEZ}
\ent{286}{H}{GABRIEL GONZALEZ ARNAO ENRIQUEZ-MAGDALENA SOFIA FUSTER CAMPOS}
\ent{287}{H}{JAIME GONZALEZ ARNAO ENRIQUEZ}
\ent{288}{H}{MARIA GONZALEZ ARNAO ENRIQUEZ-MARIANO DE LA PEÑA GEROMINI}
\ent{289}{G}{MANUEL ENRIQUEZ CARVAJAL-ROSARIO PRADO RUIZ DE GAMIZ \textbf{Marqués Villacastel Carrias}}
\ent{290}{H}{JOSE MARIA ENRIQUEZ PRADO-CLOTILDE AMILIBIA PERIQUET\ \ \textbf{Marqués Villacastel Carrias}}
\ent{291}{G}{LUISA ENRIQUEZ CARVAJAL}
\ent{292}{G}{CARMEN ENRIQUEZ CARVAJAL}\lnk{292}{M}{CARMEN ENRIQUEZ CARVAJAL}
\ent{293}{G}{MILAGROS ENRIQUEZ CARVAJAL}
\ent{294}{F}{FRANCISCO ENRIQUEZ LUQUE-MARIA ANA BOTELLA ALVAREZ REIJO}
\ent{295}{G}{CARMEN ENRIQUEZ BOTELLA-CARLOS FAURE NOEL}
\ent{296}{H}{CARMEN FAURE ENRIQUEZ-JESUS MARTINEZ CARRANZA}
\ent{297}{H}{ENRIQUETA FAURE ENRIQUEZ}
\ent{298}{H}{MARIA LUISA FAURE ENRIQUEZ-MANUEL BASAS FERNANDEZ}
\ent{299}{G}{PILAR ENRIQUEZ BOTELLA}
\ent{300}{G}{MARIA ANTONIA ENRIQUEZ BOTELLA}
\ent{301}{G}{FRANCISCO ENRIQUEZ BOTELLA-PURIFICACION ENTRECANALES GONZALEZ}
\ent{302}{H}{FRANCISCO ENRIQUEZ ENTRECANALES-ZENAIDA CASAUS ALBENIZ}
\ent{303}{G}{PEPITA ENRIQUEZ BOTELLA-PIO DEL AGUA}
\ent{304}{H}{PILAR DEL AGUA ENRIQUEZ-BLAS BUSTAMANTE MONGE}
\ent{305}{G}{MARIA ENRIQUEZ BOTELLA}
\ent{306}{F}{CARMEN ENRIQUEZ LUQUE-ALFREDO ZULUETA RUIZ DE GAMIZ \textbf{Condesa Puebla de Portugal}}\lnk{306}{M}{PALACIO ZULUETA}\lnk{306}{O}{ALFREDO}
\ent{307}{G}{CARMEN ZULUETA ENRIQUEZ}
\ent{308}{G}{MARICHU ZULUETA ENRIQUEZ}\lnk{308}{M}{MARICHU ZULUETA}
\ent{309}{G}{MANUEL ZULUETA ENRIQUEZ-CARMEN RUIZ DE LA PRADA MUÑOZ DE BAENA \textbf{Conde Puebla de Portugal}}\lnk{309}{O}{MANUEL y CARMEN}
\entc{310}{H}{M}{CARMEN ZULUETA RUIZ DE LA PRADA-LUIS GARCIA ONTIVEROS LOSCERTALES}\lnk{310}{M}{JOYAS}\lnk{310}{N}{MAS}\lnk{310}{O}{CONSTRUCTIVISTA}
\entc{311}{H}{M}{MARIA CRUZ ZULUETA RUIZ DE LA PRADA-JUAN DIAZ BUSTAMANTE CONRADO}\lnk{311}{M}{DIAZ BUSTAMANTE}\lnk{311}{O}{JUAN y MARIA CRUZ}
\entc{312}{I}{O}{JUAN DIAZ BUSTAMANTE ZULUETA-MACARENA DE USSIA BERTRAN \textbf{Condesa de los Gaitanes GE}}\lnk{312}{O}{POSTDATAS}
\entc{313}{J}{N}{MACARENA DIAZ BUSTAMANTE USSIA-JUAN MARIA MARQUES DOMENECH}\lnk{313}{N}{GAITANES}\lnk{313}{O}{RECETAS}
\ent{314}{K}{MACARENA MARQUES DIAZ BUSTAMANTE}
\ent{315}{K}{PEDRO MARQUES DIAZ BUSTAMANTE}
\ent{316}{K}{TERESA MARQUES DIAZ BUSTAMANTE}
\ent{317}{J}{JUAN DIAZ BUSTAMANTE USSIA-HELENA ALFARO PAZ CURBERA}
\ent{318}{K}{JUAN DIAZ BUSTAMANTE ALFARO}
\ent{319}{K}{LUIS DIAZ BUSTAMANTE ALFARO}
\ent{320}{K}{ARTURO DIAZ BUSTAMANTE ALFARO}
\ent{321}{J}{BORJA DIAZ BUSTAMANTE USSIA}
\ent{322}{J}{JAVIER DIAZ BUSTAMANTE USSIA}
\ent{323}{J}{JOSE DIAZ BUSTAMANTE USSIA}
\ent{324}{J}{SANTIAGO DIAZ BUSTAMANTE USSIA}
\ent{325}{J}{SOLEDAD DIAZ BUSTAMANTE USSIA}
\ent{326}{J}{MARIA CRUZ DIAZ BUSTAMANTE USSIA}
\ent{327}{J}{ROSARIO DIAZ BUSTAMANTE USSIA}
\ent{328}{H}{PILAR ZULUETA RUIZ DE LA PRADA-LUIS FELIPE PACHECO REINA}\lnk{328}{M}{PILAR ZULUETA}
\ent{329}{H}{MARIBEL ZULUETA RUIZ DE LA PRADA}\lnk{329}{M}{MARIBEL}\lnkc{329}{N}{O}{ENTREVISTA}\lnk{329}{O}{DOWN MADRID}
\entc{330}{H}{O}{ALFREDO ZULUETA RUIZ DE LA PRADA-Mª GRACIA MARTIN ARTAJO-DOLORES CEBRIAN MARIA \textbf{Conde Puebla de Portugal}}\lnk{330}{O}{ALFREDO ZULUETA}
\ent{331}{F}{FERNANDO ENRIQUEZ LUQUE-ARACELI ALVAREZ DE SOTOMAYOR ROLDAN}
\ent{332}{G}{FERNANDO ENRIQUEZ ALVAREZ DE SOTOMAYOR}
\ent{333}{F}{TULA ENRIQUEZ LUQUE}
\entc{334}{E}{N}{GERTRUDIS ENRIQUEZ SEQUERA-CHARLES LOFTUS OTWAY-ANTONIO SUAREZ DE PEREDO PAREDES \textbf{Conde Valle de Orizaba}}\lnk{334}{N}{GERTRUDIS ENRIQUEZ}
\ent{335}{E}{MARIA JOSEFA ENRIQUEZ SEQUERA}
\ent{336}{D}{MARIA ENRIQUEZ GARCIA-LUIS VAZQUEZ MONDRAGON}
\ent{337}{D}{JOSEFA ENRIQUEZ GARCIA}
\ent{338}{C}{MIGUEL ENRIQUEZ PALACIOS}
\ent{339}{C}{JUAN ENRIQUEZ PALACIOS}
\ent{340}{B}{CATALINA ENRIQUEZ PERALTA}
\ent{341}{B}{MICAELA ENRIQUEZ PERALTA-PABLO MORENO}
% footer
\cellx{0}{343}{1106}{black}{\ff}{Es un total de 1216 descendientes, de 34 generaciones, de las que solo publico 684 personas y el resto quedan ocultas de Internet}
\cellx{0}{344}{889}{black}{\ff}{No se publica nada en columna de padre, hijo y nieto. Si quieres información me la pides por email: juandiazbustamante@hotmail.com}
\draw[black!30,line width=1.5pt] (889.8,5849) rectangle (942.2,5865.3);
\node[anchor=base west,inner sep=0pt,text=lk,font=\fontsize{14}{16}\selectfont] (ini) at (892,5860) {\myul{inicio}};
% comment marker
\fill[red] (279,1547.8) -- (283.5,1547.8) -- (283.5,1552.3) -- cycle;
\end{tikzpicture}
\end{document}
